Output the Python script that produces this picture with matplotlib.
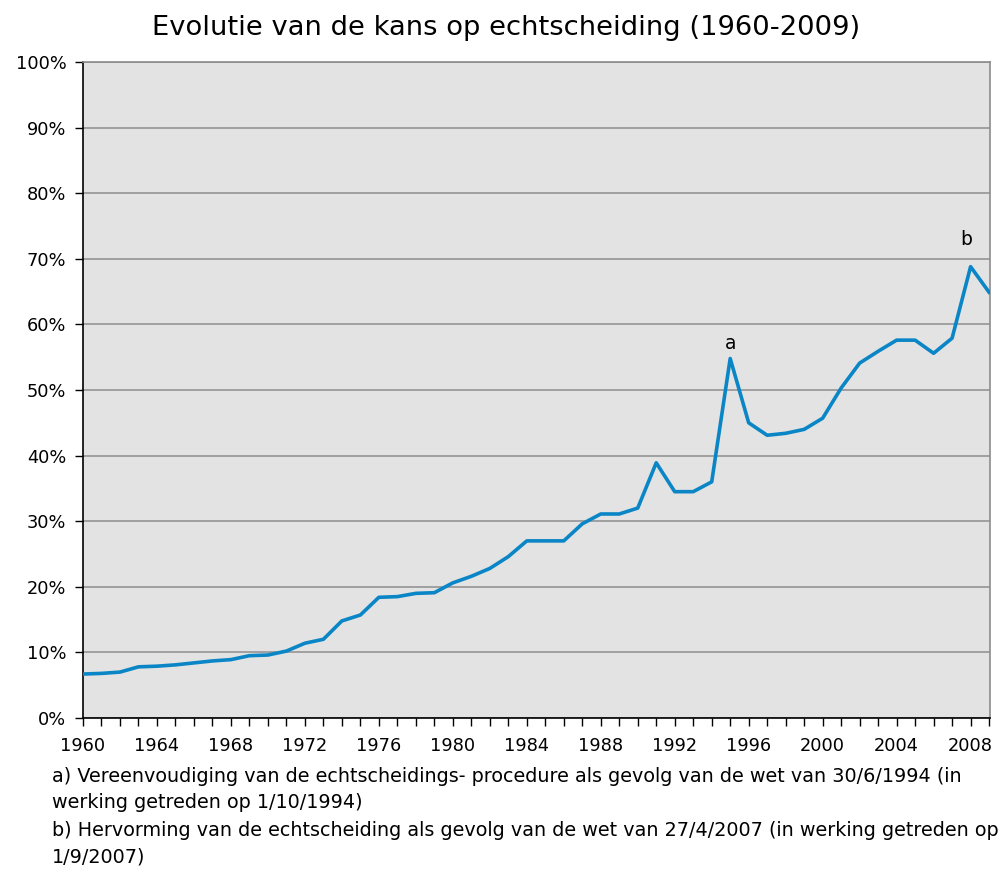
import matplotlib
matplotlib.use("Agg")
import matplotlib.pyplot as plt
from matplotlib.ticker import FuncFormatter, MultipleLocator

plt.rcParams['font.family'] = ['DejaVu Sans']

# jaren en kans op echtscheiding (%)
jaren = list(range(1960, 2010))
kans = [6.7, 6.8, 7.0, 7.8, 7.9, 8.1, 8.4, 8.7, 8.9, 9.5,
        9.6, 10.2, 11.4, 12.0, 14.8, 15.7, 18.4, 18.5, 19.0, 19.1,
        20.6, 21.6, 22.8, 24.6, 27.0, 27.0, 27.0, 29.6, 31.1, 31.1,
        32.0, 38.9, 34.5, 34.5, 36.0, 54.8, 45.0, 43.1, 43.4, 44.0,
        45.7, 50.3, 54.1, 55.9, 57.6, 57.6, 55.6, 57.9, 68.8, 64.9]
labels_x = [str(j) for j in range(1960, 2009, 4)]
notities = {'a': 1995, 'b': 2008}
voetnoten = [
    "a) Vereenvoudiging van de echtscheidings- procedure als gevolg van de wet van 30/6/1994 (in",
    "werking getreden op 1/10/1994)",
    "b) Hervorming van de echtscheiding als gevolg van de wet van 27/4/2007 (in werking getreden op",
    "1/9/2007)",
]

fig = plt.figure(figsize=(10.06, 8.72), dpi=100)
ax = fig.add_axes([83/1006, 1 - 718/872, 907/1006, 656/872])
ax.set_facecolor('#e3e3e3')

ax.plot(jaren, kans, color='#0a86c6', lw=2.6, zorder=3)

ax.set_xlim(1960, 2009.05)
ax.set_ylim(0, 100)
ax.yaxis.set_major_locator(MultipleLocator(10))
ax.yaxis.set_major_formatter(FuncFormatter(lambda v, p: f"{int(v)}%"))
ax.set_xticks(range(1960, 2009, 4))
ax.set_xticklabels(labels_x)
ax.xaxis.set_minor_locator(MultipleLocator(1))
ax.grid(axis='y', color='#9a9a9a', lw=1.3, zorder=1)
ax.tick_params(axis='both', which='both', direction='out', length=6,
               width=1, color='black', labelsize=12.8)
ax.tick_params(axis='x', which='major', pad=8)
ax.tick_params(axis='y', pad=6)

ax.spines['left'].set_color('black')
ax.spines['bottom'].set_color('black')
ax.spines['top'].set_color('#8c8c8c')
ax.spines['right'].set_color('#8c8c8c')
for s in ax.spines.values():
    s.set_linewidth(1.2)

for letter, jaar in notities.items():
    ax.annotate(letter, (jaar, kans[jaren.index(jaar)]),
                xytext=(0 if letter == 'a' else -3, 4 if letter == 'a' else 13),
                textcoords='offset points', ha='center', va='bottom', fontsize=13.5)

fig.text(506/1006, 1 - 28/872, "Evolutie van de kans op echtscheiding (1960-2009)",
         ha='center', va='center', fontsize=19.7)

ys = [776, 802, 830, 857]
for regel, y in zip(voetnoten, ys):
    fig.text(52/1006, 1 - y/872, regel, ha='left', va='center', fontsize=13.8)

fig.savefig('out.png', dpi=100)
